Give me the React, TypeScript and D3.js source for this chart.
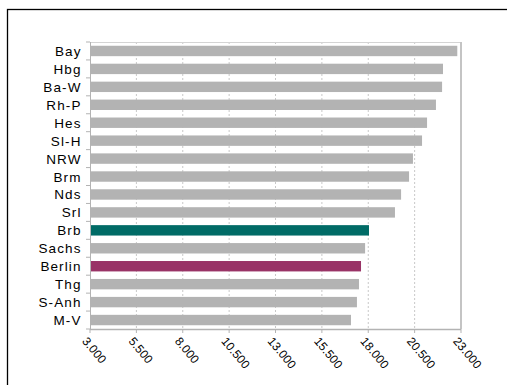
import React from "react";
import * as d3 from "d3";

const categories = ["Bay", "Hbg", "Ba-W", "Rh-P", "Hes", "Sl-H", "NRW", "Brm", "Nds", "Srl", "Brb", "Sachs", "Berlin", "Thg", "S-Anh", "M-V"];
const values = [22800, 22030, 21980, 21650, 21170, 20900, 20410, 20200, 19770, 19440, 18040, 17830, 17610, 17500, 17390, 17070];
const highlight: Record<string, string> = { Brb: "#006b66", Berlin: "#993366" };
const xTicks = [3000, 5500, 8000, 10500, 13000, 15500, 18000, 20500, 23000];

const W = 507;
const H = 385;
const left = 90;
const right = 461;
const top = 42;
const bottom = 329;

const fmt = (v: number) => d3.format(",")(v).replace(/,/g, ".");

export default function App() {
  const x = d3.scaleLinear().domain([3000, 23000]).range([left, right]);
  const y = d3.scaleBand<string>().domain(categories).range([top, bottom]).paddingInner(0.42).paddingOuter(0.21);
  const step = y.step();
  const boundaries = d3.range(categories.length + 1).map((i) => top + i * step);
  const font = "'Liberation Sans', Arial, sans-serif";

  return (
    <svg width={W} height={H} style={{ position: "absolute", left: 0, top: 0 }} fontFamily={font}>
      <rect x={0} y={0} width={W} height={H} fill="#fff" />
      {/* outer frame */}
      <rect x={7.5} y={9.5} width={W + 20} height={H + 20} fill="none" stroke="#000" strokeWidth={1.3} />

      {/* gridlines */}
      {xTicks.slice(1, -1).map((t) => (
        <line key={t} x1={x(t)} x2={x(t)} y1={top} y2={bottom} stroke="#c8c8c8" strokeWidth={1} strokeDasharray="2,2" />
      ))}
      <line x1={left} x2={right} y1={top + 0.5} y2={top + 0.5} stroke="#d4d4d4" strokeWidth={1} />
      <line x1={right} x2={right} y1={top} y2={bottom} stroke="#c4c4c4" strokeWidth={2} />

      {/* bars */}
      {categories.map((c, i) => (
        <rect
          key={c}
          x={x(3000)}
          y={y(c)}
          width={x(values[i]) - x(3000)}
          height={y.bandwidth()}
          fill={highlight[c] ?? "#b3b3b3"}
        />
      ))}

      {/* y axis */}
      <line x1={left + 0.5} x2={left + 0.5} y1={top} y2={bottom} stroke="#b3b3b3" strokeWidth={1} />
      {boundaries.map((b, i) => (
        <line key={i} x1={left - 4} x2={left} y1={b} y2={b} stroke="#b3b3b3" strokeWidth={1} />
      ))}
      {categories.map((c) => (
        <text
          key={c}
          x={81.5}
          y={(y(c) ?? 0) + y.bandwidth() / 2}
          dy="0.37em"
          textAnchor="end"
          fontSize={13.5}
          letterSpacing={1.1}
          fill="#000"
        >
          {c}
        </text>
      ))}

      {/* x axis */}
      <line x1={left} x2={right} y1={bottom + 0.5} y2={bottom + 0.5} stroke="#b3b3b3" strokeWidth={1.5} />
      {xTicks.map((t) => (
        <line key={t} x1={x(t)} x2={x(t)} y1={bottom} y2={bottom + 4} stroke="#b3b3b3" strokeWidth={1} />
      ))}
      {xTicks.map((t) => (
        <text
          key={t}
          transform={`translate(${x(t) - 2},${bottom + 7}) rotate(50)`}
          fontSize={12}
          fill="#000"
          dy="0.7em"
        >
          {fmt(t)}
        </text>
      ))}
    </svg>
  );
}
